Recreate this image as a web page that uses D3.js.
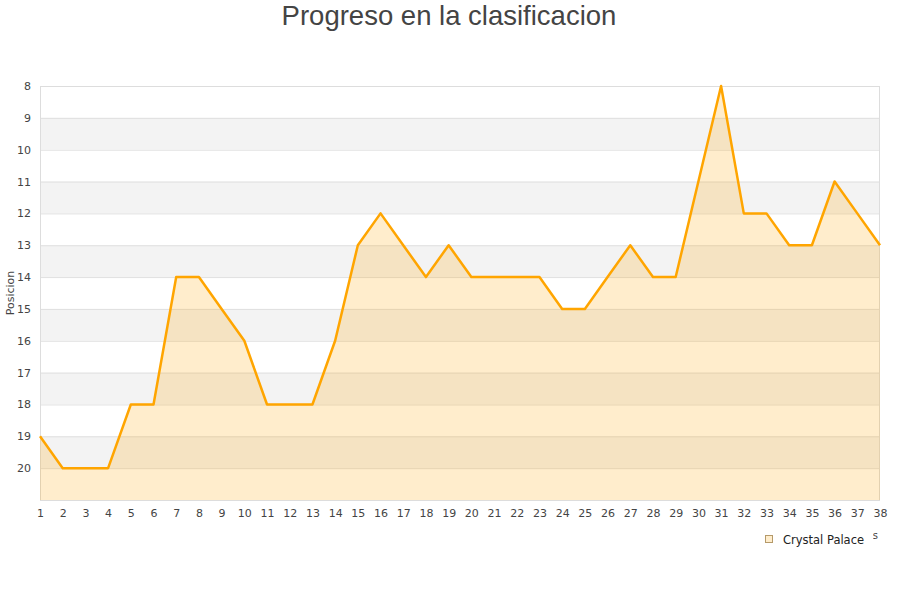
<!DOCTYPE html>
<html>
<head>
<meta charset="utf-8">
<script src="https://cdn.jsdelivr.net/npm/d3@7"></script>
<style>
body{margin:0;background:#fff;}
svg{display:block;}
</style>
</head>
<body>
<svg id="chart" width="900" height="600"></svg>
<script>
const title = "Progreso en la clasificacion";
const seriesName = "Crystal Palace";
const yLabel = "Posicion";
const xLabel = "Jornadas";
const rounds = [1,2,3,4,5,6,7,8,9,10,11,12,13,14,15,16,17,18,19,20,21,22,23,24,25,26,27,28,29,30,31,32,33,34,35,36,37,38];
const positions = [19,20,20,20,18,18,14,14,15,16,18,18,18,16,13,12,13,14,13,14,14,14,14,15,15,14,13,14,14,11,8,12,12,13,13,11,12,13];
const yTicks = [8,9,10,11,12,13,14,15,16,17,18,19,20];

const svg = d3.select("#chart");
const L = 40, R = 880, T = 86, B = 500;
const x = d3.scaleLinear().domain([1, 38]).range([L, R]);
const y = d3.scaleLinear().domain([8, 21]).range([T, B]);

// bands
const bands = d3.range(8, 21);
svg.append("g").selectAll("rect").data(bands).join("rect")
  .attr("x", L).attr("width", R - L)
  .attr("y", d => y(d)).attr("height", d => y(d + 1) - y(d))
  .attr("fill", d => (d % 2 === 1) ? "#f3f3f3" : "#ffffff");

// grid lines
svg.append("g").selectAll("line").data(d3.range(9, 21)).join("line")
  .attr("x1", L).attr("x2", R)
  .attr("y1", d => y(d) + 0.5).attr("y2", d => y(d) + 0.5)
  .attr("stroke", "#e0e0e0").attr("stroke-width", 1);

// border
svg.append("rect").attr("x", L + 0.5).attr("y", T + 0.5)
  .attr("width", R - L - 1).attr("height", B - T)
  .attr("fill", "none").attr("stroke", "#dddddd");

const data = rounds.map((r, i) => ({r, p: positions[i]}));

svg.append("path").datum(data)
  .attr("d", d3.area().x(d => x(d.r)).y0(B).y1(d => y(d.p)))
  .attr("fill", "rgba(255,165,0,0.2)");

svg.append("path").datum(data)
  .attr("d", d3.line().x(d => x(d.r)).y(d => y(d.p)))
  .attr("fill", "none").attr("stroke", "#ffa500").attr("stroke-width", 2.5)
  .attr("stroke-linejoin", "round");

// y axis
const yAxis = d3.axisLeft(y).tickValues(yTicks).tickSize(0).tickPadding(9);
const gy = svg.append("g").attr("transform", `translate(${L},0)`).call(yAxis);
gy.select(".domain").remove();
gy.selectAll("text").attr("font-family", "DejaVu Sans, sans-serif").attr("font-size", 11).attr("fill", "#444");

// x axis
const xAxis = d3.axisBottom(x).tickValues(rounds).tickSize(0).tickPadding(9).tickFormat(d3.format("d"));
const gx = svg.append("g").attr("transform", `translate(0,${B})`).call(xAxis);
gx.select(".domain").remove();
gx.selectAll("text").attr("font-family", "DejaVu Sans, sans-serif").attr("font-size", 11).attr("fill", "#444");

// title
svg.append("text").attr("x", 449).attr("y", 25).attr("text-anchor", "middle")
  .attr("font-family", "Liberation Sans, Arial, sans-serif").attr("font-size", 27.5)
  .attr("fill", "#444").text(title);

// y label
svg.append("text").attr("transform", "translate(14,293) rotate(-90)")
  .attr("text-anchor", "middle").attr("font-family", "DejaVu Sans, sans-serif")
  .attr("font-size", 11).attr("fill", "#444").text(yLabel);

// x label (mostly hidden behind the legend, as in the reference)
svg.append("clipPath").attr("id", "xlabclip")
  .append("rect").attr("x", 873).attr("y", 520).attr("width", 20).attr("height", 30);
svg.append("text").attr("x", 878).attr("y", 539).attr("text-anchor", "end")
  .attr("clip-path", "url(#xlabclip)")
  .attr("font-family", "DejaVu Sans, sans-serif").attr("font-size", 10)
  .attr("fill", "#444").text(xLabel);

// legend
const lg = svg.append("g");
lg.append("rect").attr("x", 765.5).attr("y", 535.5).attr("width", 7).attr("height", 7)
  .attr("fill", "rgba(255,165,0,0.2)").attr("stroke", "#b59a6a").attr("stroke-width", 1);
lg.append("text").attr("x", 783).attr("y", 543.5).attr("font-family", "DejaVu Sans, sans-serif")
  .attr("font-size", 11.5).attr("fill", "#222").text(seriesName);
</script>
</body>
</html>
